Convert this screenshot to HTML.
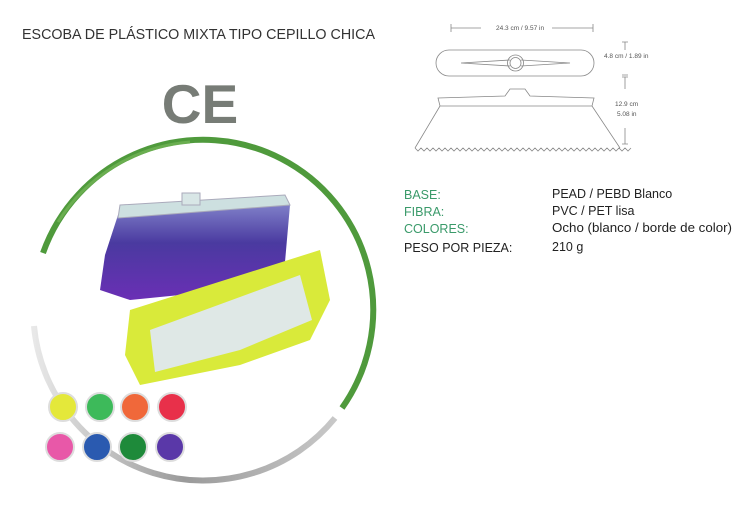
<!DOCTYPE html>
<html><head><meta charset="utf-8"><style>
body{margin:0;background:#fff;}
svg{display:block;font-family:"Liberation Sans",sans-serif;}
</style></head><body>
<svg width="741" height="510" viewBox="0 0 741 510" xmlns="http://www.w3.org/2000/svg">
<defs>
<linearGradient id="gr" x1="0" y1="0" x2="1" y2="0">
<stop offset="0" stop-color="#e8e8e8"/><stop offset="0.5" stop-color="#9a9a9a"/><stop offset="1" stop-color="#c8c8c8"/></linearGradient>
<linearGradient id="pu" x1="0" y1="0" x2="0" y2="1">
<stop offset="0" stop-color="#7f7fc8"/><stop offset="0.4" stop-color="#4a3aa0"/><stop offset="1" stop-color="#6a2fb5"/></linearGradient>
</defs>
<text x="22" y="39" font-size="14.5" fill="#333" textLength="353" lengthAdjust="spacingAndGlyphs">ESCOBA DE PLÁSTICO MIXTA TIPO CEPILLO CHICA</text>
<text x="200" y="123" font-size="55" font-weight="bold" fill="#777c76" text-anchor="middle">CE</text>
<!-- grey arc -->
<path d="M34 326 A170 170 0 0 0 335 418" fill="none" stroke="url(#gr)" stroke-width="6"/>
<!-- green arc -->
<path d="M43 253 A170 170 0 1 1 342 408" fill="none" stroke="#4f9a3c" stroke-width="6"/>
<path d="M58 222 A172 172 0 0 1 190 142" fill="none" stroke="#6aae50" stroke-width="3"/>
<!-- purple brush -->
<polygon points="118,215 290,205 285,262 270,272 235,285 180,295 130,300 100,290 105,255" fill="url(#pu)"/>
<polygon points="120,205 285,195 290,205 118,218" fill="#cde0e0" stroke="#aab" stroke-width="1"/>
<rect x="182" y="193" width="18" height="12" fill="#d8e6e6" stroke="#aab"/>
<!-- yellow brush -->
<polygon points="130,310 320,250 330,300 310,340 240,365 140,385 125,355" fill="#d9ea3a"/>
<polygon points="150,330 300,275 312,320 240,350 155,372" fill="#dfe8e6"/>
<!-- swatches -->
<g stroke="#ddd" stroke-width="2">
<circle cx="63" cy="407" r="14" fill="#e4e83a"/>
<circle cx="100" cy="407" r="14" fill="#3dba5a"/>
<circle cx="135" cy="407" r="14" fill="#f0683a"/>
<circle cx="172" cy="407" r="14" fill="#e8304a"/>
<circle cx="60" cy="447" r="14" fill="#e858a8"/>
<circle cx="97" cy="447" r="14" fill="#2a5ab0"/>
<circle cx="133" cy="447" r="14" fill="#1e8a3a"/>
<circle cx="170" cy="447" r="14" fill="#5a38a8"/>
</g>
<!-- technical drawing -->
<g stroke="#888" stroke-width="0.8" fill="none">
<path d="M451 24v8M451 28h30M552 28h41M593 24v8"/>
<rect x="436" y="50" width="158" height="26" rx="13"/>
<path d="M461 63 L510 60 M521 60 L570 63 L521 66 M510 66 L461 63"/>
<circle cx="515.5" cy="63" r="8"/><circle cx="515.5" cy="63" r="5.5"/>
<path d="M622 42h6M625 42v8M622 75h6M622 77h6M625 77v12M625 128v16M622 144h6"/>
<path d="M438 98 L505 96 L510 89 L525 89 L530 96 L594 98 L592 106 L440 106 Z"/>
<path d="M440 106 L415 148 M592 106 L620 148"/>
<path d="M415 148 l3 3 3-3 3 3 3-3 3 3 3-3 3 3 3-3 3 3 3-3 3 3 3-3 3 3 3-3 3 3 3-3 3 3 3-3 3 3 3-3 3 3 3-3 3 3 3-3 3 3 3-3 3 3 3-3 3 3 3-3 3 3 3-3 3 3 3-3 3 3 3-3 3 3 3-3 3 3 3-3 3 3 3-3 3 3 3-3 3 3 3-3 3 3 3-3 3 3 3-3 3 3 3-3 3 3 3-3 3 3 3-3 3 3 3-3 3 3 3-3 3 3 3-3 3 3 3-3 3 3 3-3 3 3 3-3 3 3 3-3 3 3 3-3"/>
</g>
<g font-size="6.5" fill="#555">
<text x="496" y="30">24.3 cm / 9.57 in</text>
<rect x="602" y="52" width="50" height="9" fill="#fff"/>
<text x="604" y="58">4.8 cm / 1.89 in</text>
<text x="615" y="106">12.9 cm</text>
<text x="617" y="116">5.08 in</text>
</g>
<g font-size="12.5">
<text x="404" y="199" fill="#3a9a6a">BASE:</text>
<text x="404" y="216" fill="#3a9a6a">FIBRA:</text>
<text x="404" y="233" fill="#3a9a6a">COLORES:</text>
<text x="404" y="252" fill="#222">PESO POR PIEZA:</text>
<text x="552" y="198" fill="#222">PEAD / PEBD Blanco</text>
<text x="552" y="215" fill="#222">PVC / PET lisa</text>
<text x="552" y="232" fill="#222" textLength="180" lengthAdjust="spacingAndGlyphs">Ocho (blanco / borde de color)</text>
<text x="552" y="251" fill="#222">210 g</text>
</g>
</svg>
</body></html>
